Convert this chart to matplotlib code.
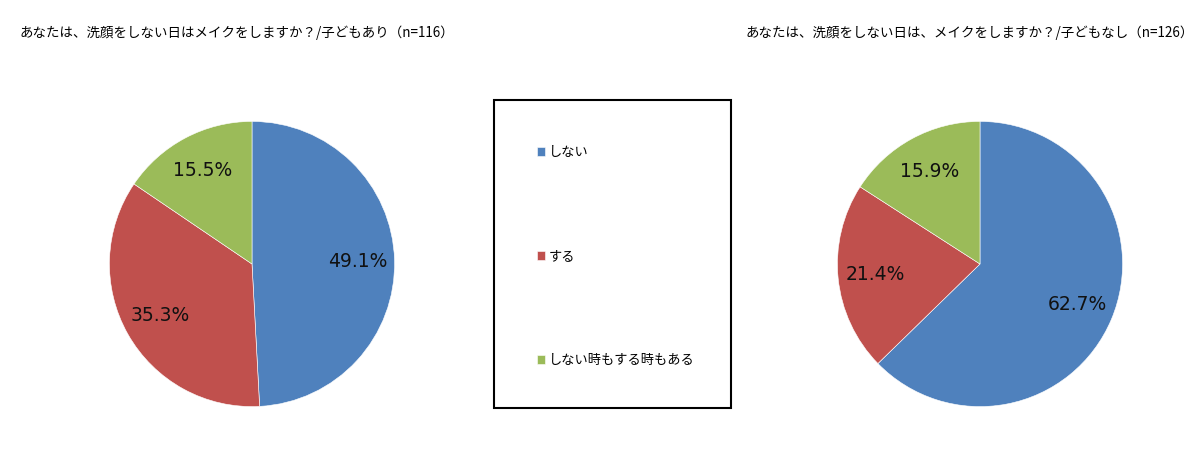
import matplotlib
matplotlib.use("Agg")
import matplotlib.pyplot as plt
from matplotlib.patches import Rectangle

plt.rcParams["font.family"] = ["Noto Sans CJK JP", "DejaVu Sans"]

# datos
categorias = ["しない", "する", "しない時もする時もある"]
con_hijos = [49.1, 35.3, 15.5]
sin_hijos = [62.7, 21.4, 15.9]
titulo_con = "あなたは、洗顔をしない日はメイクをしますか？/子どもあり（n=116）"
titulo_sin = "あなたは、洗顔をしない日は、メイクをしますか？/子どもなし（n=126）"
colores = ["#4F81BD", "#C0504D", "#9BBB59"]

W, H = 1200, 458
fig = plt.figure(figsize=(W / 100, H / 100), dpi=100)


def eje_pastel(cx, cy, r):
    # convierte centro y radio en pixeles a un eje cuadrado
    return fig.add_axes([(cx - r) / W, (H - cy - r) / H, 2 * r / W, 2 * r / H])


def dibujar(ax, valores):
    wedges, _, textos = ax.pie(
        valores, colors=colores, startangle=90, counterclock=False,
        autopct="%.1f%%", pctdistance=0.74, radius=1,
        wedgeprops=dict(edgecolor="white", linewidth=0.4),
    )
    for t in textos:
        t.set_fontfamily("DejaVu Sans")
        t.set_fontsize(13.5)
        t.set_color("#111111")
    ax.set_xlim(-1.01, 1.01)
    ax.set_ylim(-1.01, 1.01)
    ax.set_aspect("equal")
    ax.axis("off")
    return wedges


ax1 = eje_pastel(252, 264, 144)
wedges = dibujar(ax1, con_hijos)
ax2 = eje_pastel(980, 264, 144)
dibujar(ax2, sin_hijos)

fig.text(20 / W, 1 - 33 / H, titulo_con, fontsize=9.7, va="center", ha="left")
fig.text(746 / W, 1 - 33 / H, titulo_sin, fontsize=9.7, va="center", ha="left")

# caja de leyenda
fig.patches.append(Rectangle((494 / W, 1 - 408 / H), (731 - 494) / W, (408 - 100) / H,
                             transform=fig.transFigure, fill=False,
                             edgecolor="black", linewidth=1.5))

fig.legend(wedges, categorias, loc="upper left", frameon=False,
           bbox_to_anchor=(537 / W, 1 - 146 / H), fontsize=9.5,
           handlelength=0.6, handleheight=0.6, handletextpad=0.3,
           labelspacing=6.9, borderpad=0, borderaxespad=0)

fig.savefig("out.png", dpi=100)
